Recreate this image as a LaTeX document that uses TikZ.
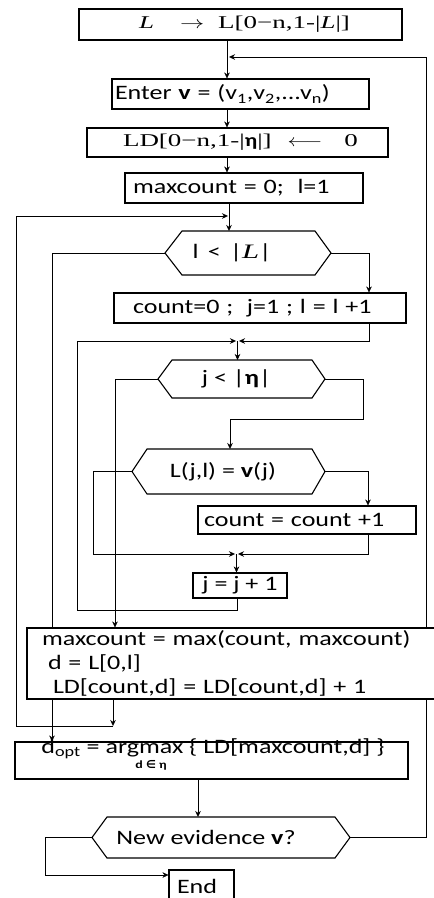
\documentclass[tikz,border=0pt]{standalone}
\usepackage{fontspec}
\usepackage{graphicx}
\setmainfont[FakeStretch=1.27]{Carlito}
\newfontfamily\serf[FakeStretch=1.5]{Liberation Serif}
\newfontfamily\dvs{DejaVu Sans}
\usetikzlibrary{arrows.meta}
\pgfdeclarelayer{bg}
\pgfsetlayers{bg,main}
\begin{document}
\begin{tikzpicture}[x=1pt,y=-1pt,line width=1.1pt,
  every node/.style={font=\fontsize{20.5}{24}\selectfont},
  box/.style={draw,fill=white,inner ysep=0pt,inner xsep=0pt,align=center},
  lbox/.style={draw,fill=white,inner ysep=0pt,align=left},
  arr/.style={-{Stealth[length=6pt,width=5.5pt]}},
  hex/.style={draw,fill=white,line join=miter}]
\useasboundingbox (0,0) rectangle (434,898);

% ---- rectangles
\node[box,minimum width=323pt,minimum height=31pt] (b1) at (240.5,24.5)
  {\serf\fontsize{18}{20}\selectfont\hspace*{8pt}\textit{L}\hspace{26pt}\scalebox{1.4}[1]{$\rightarrow$}\hspace{14pt}L[0−n,1-|\textit{L}|]};
\node[lbox,inner xsep=3pt,text width=251pt,minimum height=30pt] (b2) at (240.5,94)
  {Enter \textbf{v} = (v\textsubscript{1},v\textsubscript{2},...v\textsubscript{n})};
\node[box,minimum width=301pt,minimum height=29pt] (b3) at (237.5,142.5)
  {\serf\fontsize{18}{20}\selectfont\hspace*{6pt}LD[0−n,1-|{\rmfamily\bfseries η}|]\hspace{16pt}\scalebox{1.25}[1]{$\longleftarrow$}\hspace{22pt}0};
\node[lbox,inner xsep=8pt,text width=222pt,minimum height=30pt] (b4) at (244,188)
  {maxcount = 0;\ \ l=1};
\node[lbox,inner xsep=19pt,text width=254pt,minimum height=30pt] (b5) at (260,308)
  {count=0 ;\ \ j=1 ; l = l +1};
\node[lbox,inner xsep=6pt,text width=206pt,minimum height=28pt] (b6) at (307,520)
  {count = count +1};
\node[box,minimum width=94pt,minimum height=25pt] (b7) at (240,585.5)
  {j = j + 1};
\node[lbox,inner xsep=15pt,text width=410pt,minimum height=71pt] (b8) at (247,663.5)
  {maxcount = max(count, maxcount)\\\hspace*{6pt}d = L[0,l]\\\hspace*{11pt}LD[count,d] = LD[count,d] + 1};
\node[box,minimum width=393pt,minimum height=37pt] (b9) at (211.5,760.5) {};
\node[anchor=base,inner sep=0pt] (b9t) at (213,753)
  {d\textsubscript{opt} = argmax \{ LD[maxcount,d] \}};
\node[inner sep=0pt,font=\fontsize{11}{13}\selectfont\bfseries] (b9s) at (151,765)
  {d {\dvs ∈} η};
\node[lbox,inner xsep=8pt,text width=49pt,minimum height=42pt,text depth=10pt] (b10) at (201.5,891)
  {End};

% ---- hexagons
\coordinate (h1w) at (165,253); \coordinate (h1e) at (331,253); \coordinate (h1n) at (229,231);
\draw[hex] (h1w) -- (182,231) -- (315,231) -- (h1e) -- (315,275) -- (182,275) -- cycle;
\node (h1) at (232,253) {l\, <\, |{\serf\textit{L}}|};

\coordinate (h2w) at (158,379); \coordinate (h2e) at (325,379); \coordinate (h2n) at (237.5,360);
\draw[hex] (h2w) -- (172,360) -- (312,360) -- (h2e) -- (312,398) -- (172,398) -- cycle;
\node (h2) at (236.5,379) {j < |\textbf{η}|};

\coordinate (h3w) at (132,471.5); \coordinate (h3e) at (325,471.5); \coordinate (h3n) at (230,449);
\draw[hex] (h3w) -- (147,449) -- (312,449) -- (h3e) -- (312,494) -- (147,494) -- cycle;
\node (h3) at (223,471.5) {L(j,l) = \textbf{v}(j)};

\coordinate (h4w) at (92,837.5); \coordinate (h4e) at (350,837.5); \coordinate (h4n) at (198,817);
\draw[hex] (h4w) -- (107,817) -- (335,817) -- (h4e) -- (335,858) -- (107,858) -- cycle;
\node (h4) at (206,837.5) {New evidence \textbf{v}?};

% ---- helper coordinates
\coordinate (xa) at (227,0);
\coordinate (xb) at (229,0);
\coordinate (xc) at (113,0);
\coordinate (xd) at (52,0);
\coordinate (xe) at (369,0);
\coordinate (xf) at (115,0);
\coordinate (xg) at (368,0);
\coordinate (xh) at (237,0);
\coordinate (xi) at (198,0);
\coordinate (fb) at (426,57);
\coordinate (fbin) at (229,57);
\coordinate (l1) at (113,726);
\coordinate (l1b) at (16,726);
\coordinate (l1c) at (16,216);
\coordinate (j0) at (228,216);
\coordinate (j1) at (237.5,341);
\coordinate (j1l) at (236,341);
\coordinate (j1r) at (239,341);
\coordinate (k1) at (363,419);
\coordinate (k2) at (230,419);
\coordinate (m1) at (93,554);
\coordinate (j2) at (236.5,554);
\coordinate (j2l) at (235,554);
\coordinate (j2r) at (238,554);
\coordinate (n0) at (237,610);
\coordinate (n1) at (77,341);
\coordinate (p1) at (45,875);

% ---- connectors
\begin{pgfonlayer}{bg}
\draw[arr] (b1.south -| xa) -- (b2.north -| xa);
\draw[arr] (b2.south -| xa) -- (b3.north -| xa);
\draw[arr] (b3.south -| xa) -- (b4.north -| xa);
\draw[arr] (h4e) -| (fb) -- (fbin);
\draw[arr] (b4.south -| xb) -- (h1n);
\draw[arr] (b8.south -| xc) -- (l1);
\draw[arr] (l1) -- (l1b) -- (l1c) -- (j0);
\draw[arr] (h1w) -| (b9.north -| xd);
\draw[arr] (h1e) -| (b5.north -| xe);
\draw[arr] (b5.south -| xe) |- (j1r);
\draw[arr] (j1) -- (h2n);
\draw[arr] (h2w) -| (b8.north -| xf);
\draw[arr] (h2e) -| (k1) -- (k2) -- (h3n);
\draw[arr] (h3w) -| (m1) -- (j2l);
\draw[arr] (h3e) -| (b6.north -| xg);
\draw[arr] (b6.south -| xg) |- (j2r);
\draw[arr] (j2) -- (b7.north -| j2);
\draw[arr] (b7.south -| xh) -- (n0) -| (n1) -- (j1l);
\draw[arr] (b9.south -| xi) -- (h4n);
\draw[arr] (h4w) -| (p1) -- (p1 -| b10.west);
\end{pgfonlayer}
\end{tikzpicture}
\end{document}
